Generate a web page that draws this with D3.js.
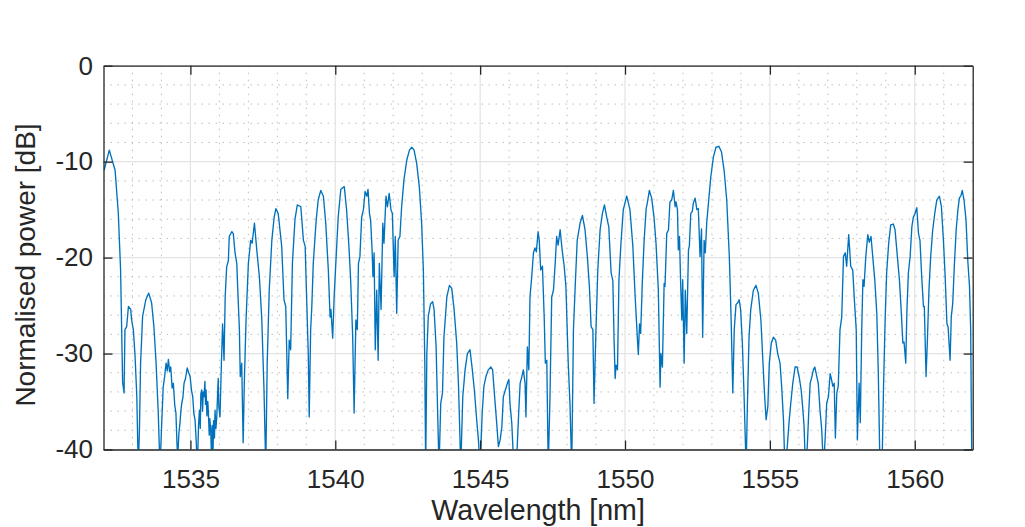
<!DOCTYPE html>
<html>
<head>
<meta charset="utf-8">
<script src="https://cdn.jsdelivr.net/npm/d3@7"></script>
<style>
  body { margin: 0; background: #fff; }
  svg { display: block; font-family: "Liberation Sans", Arial, Helvetica, sans-serif; }
</style>
</head>
<body>
<div id="chart"></div>
<script>
const kWidth = 1025;
const kHeight = 527;
const kLeft = 103.5;
const kRight = 972.7;
const kTop = 65.7;
const kBottom = 449.5;
const kTickLen = 9;

const xDomain = [1532, 1562];
const yDomain = [-40, 0];
const xTicks = [1535, 1540, 1545, 1550, 1555, 1560];
const yTicks = [0, -10, -20, -30, -40];
const xLabel = "Wavelength [nm]";
const yLabel = "Normalised power [dB]";

// [wavelength nm, power dB]
const seg1 = [
  [1532.02,-10.9],[1532.20,-8.8],[1532.40,-10.9],[1532.51,-15.3],[1532.59,-21.3],[1532.66,-33.0],
  [1532.71,-34.1],[1532.74,-27.5],[1532.80,-27.2],[1532.86,-25.1],[1532.94,-25.4],[1532.97,-26.5],
  [1533.03,-27.5],[1533.09,-30.3],[1533.15,-34.5],[1533.20,-42],[1533.24,-38],[1533.28,-31],
  [1533.35,-26.1],[1533.46,-24.4],[1533.56,-23.7],[1533.66,-24.7],[1533.74,-27.2],[1533.81,-30.7],
  [1533.89,-36.2],[1533.95,-42],[1534.01,-37.2],[1534.06,-33.5],[1534.11,-32.4],[1534.16,-31],
  [1534.20,-31.8],[1534.24,-30.6],[1534.28,-31.9],[1534.32,-31.4],[1534.37,-33.6],[1534.41,-33.1],
  [1534.46,-35.4],[1534.50,-36.2],[1534.53,-38.9],[1534.56,-41],[1534.60,-38.4],[1534.64,-37.2],
  [1534.67,-36.0],[1534.70,-35.2],[1534.74,-34.6],[1534.78,-33.1],[1534.83,-32.6],[1534.89,-31.5],
  [1534.94,-32.0],[1534.99,-32.4],[1535.04,-33.9],[1535.08,-34.5],[1535.12,-36.3],[1535.16,-36.9],
  [1535.20,-39.1],[1535.24,-42],[1535.28,-37.5],[1535.31,-35.9],[1535.34,-37.8],[1535.36,-34.2],
  [1535.39,-33.8],[1535.42,-36.0],[1535.44,-34.0],[1535.47,-34.5],[1535.50,-32.9],[1535.52,-35.3],
  [1535.54,-33.8],[1535.57,-36.5],[1535.60,-35.0],[1535.62,-36.2],[1535.65,-38.5],[1535.67,-36.8],
  [1535.70,-38],[1535.73,-41],[1535.75,-37.5],[1535.77,-42],[1535.80,-37],[1535.83,-38.8],
  [1535.85,-35.9],[1535.88,-37.8],[1535.91,-36.6],[1535.94,-34.0],[1535.96,-32.6],[1535.98,-35.5],
  [1536.02,-36.6],[1536.07,-31],[1536.11,-26.9],[1536.16,-30.7],[1536.20,-24.1],[1536.25,-21],
  [1536.31,-20.3],[1536.34,-17.8],[1536.43,-17.3],[1536.48,-17.5],[1536.54,-19.5],[1536.60,-20.6],
  [1536.63,-23],[1536.69,-27.5],[1536.72,-32.4],[1536.77,-31],[1536.82,-39.3],[1536.86,-33.1],
  [1536.92,-26.5],[1537.00,-20.6],[1537.08,-18.2],[1537.13,-18.5],[1537.21,-16.4],[1537.29,-19.2],
  [1537.38,-22],[1537.46,-26.2],[1537.54,-33.8],[1537.60,-42],[1537.65,-31],[1537.72,-23.4],
  [1537.81,-18.2],[1537.89,-15.8],[1537.95,-14.9],[1538.03,-15.4],[1538.15,-18.8],[1538.23,-24.4],
  [1538.29,-25.1],[1538.36,-34.7],[1538.41,-28.6],[1538.46,-29.6],[1538.52,-20.6],[1538.61,-16],
  [1538.69,-14.5],[1538.81,-14.7]
];

const seg2 = [
  [1538.90,-18.2],[1538.96,-18.8],[1539.01,-24.1],[1539.07,-30.3],[1539.10,-36.6],[1539.15,-27.5],
  [1539.19,-25.1],[1539.24,-20.6],[1539.34,-16.1],[1539.41,-14],[1539.50,-13],[1539.59,-13.6],
  [1539.67,-16.4],[1539.76,-21.3],[1539.82,-26.2],[1539.85,-25.4],[1539.91,-28.4],[1539.96,-24.1],
  [1540.03,-19.9],[1540.10,-15.8],[1540.19,-12.9],[1540.31,-12.6],[1540.39,-15],[1540.47,-18.8],
  [1540.53,-22.3],[1540.60,-28.2],[1540.65,-36.2],[1540.71,-26.5],[1540.76,-27.5],[1540.80,-20.6],
  [1540.85,-19.9],[1540.91,-15.8],[1540.97,-15],[1541.03,-13.1],[1541.09,-13.6],[1541.13,-12.9],
  [1541.18,-15.4],[1541.22,-16.1],[1541.27,-19.2],[1541.30,-22],[1541.34,-19.5],[1541.38,-29.6],
  [1541.43,-23.4],[1541.48,-30.7],[1541.52,-20.6],[1541.58,-25.4],[1541.64,-16.4],[1541.68,-18.5],
  [1541.75,-13.6],[1541.80,-14.7],[1541.86,-13.3],[1541.92,-15],[1541.97,-15.4],[1542.03,-22],
  [1542.07,-17.8],[1542.12,-25.8],[1542.17,-18.2],[1542.23,-17.8],[1542.29,-14.7],[1542.37,-11.9],
  [1542.47,-9.8],[1542.56,-8.8],[1542.64,-8.5],[1542.72,-8.8],[1542.81,-10.2],[1542.90,-12.6],
  [1542.98,-16.4],[1543.04,-21.3],[1543.09,-31],[1543.12,-42],[1543.16,-30],[1543.21,-26.1],
  [1543.29,-24.8],[1543.36,-24.6],[1543.41,-25.4],[1543.48,-29.3],[1543.52,-34.5],[1543.58,-42],
  [1543.64,-35.2],[1543.70,-34.1],[1543.75,-28.3],[1543.85,-24.1],[1543.94,-22.9],[1544.02,-23.2],
  [1544.10,-25.4],[1544.19,-28.9],[1544.25,-33.1],[1544.28,-36.2],[1544.33,-42],[1544.40,-34.5],
  [1544.48,-31.7],[1544.56,-30],[1544.65,-29.6],[1544.73,-31.7],[1544.80,-33.8],[1544.88,-36.9],
  [1544.94,-39],[1545.00,-42],[1545.07,-36.2],[1545.13,-33.4],[1545.20,-32.4],[1545.28,-31.7],
  [1545.37,-31.4],[1545.43,-31.7],[1545.50,-34.5],[1545.57,-37.2],[1545.63,-39.7],[1545.69,-39],
  [1545.75,-37.6],[1545.80,-34.5],[1545.87,-33.8],[1545.94,-33.1],[1545.99,-32.7],[1546.03,-35.2],
  [1546.09,-37.2],[1546.15,-41],[1546.26,-41],[1546.33,-36.2]
];

const seg3 = [
  [1546.38,-33.1],[1546.44,-32.4],[1546.49,-31.7],[1546.55,-33.1],[1546.58,-36.6],[1546.63,-29.3],
  [1546.68,-31.7],[1546.72,-24.1],[1546.78,-22],[1546.84,-19.5],[1546.89,-19],[1546.94,-19.4],
  [1547.00,-17.3],[1547.04,-18.2],[1547.09,-21.3],[1547.15,-20.9],[1547.21,-26.2],[1547.25,-31],
  [1547.30,-30.7],[1547.35,-42],[1547.41,-34.5],[1547.47,-24.1],[1547.53,-23.4],[1547.59,-20.6],
  [1547.64,-17.8],[1547.69,-18.7],[1547.76,-17.1],[1547.83,-19.2],[1547.90,-20.9],[1547.96,-23],
  [1548.04,-31],[1548.10,-35.2],[1548.16,-42],[1548.22,-27.5],[1548.29,-22.3],[1548.35,-18.2],
  [1548.45,-16.4],[1548.53,-15.6],[1548.62,-17.1],[1548.70,-19.9],[1548.77,-23],[1548.83,-27.2],
  [1548.89,-27.5],[1548.93,-35.2],[1548.99,-28.3],[1549.06,-21.3],[1549.14,-17.1],[1549.22,-15.4],
  [1549.29,-14.5],[1549.37,-15.8],[1549.44,-16.8],[1549.52,-21.6],[1549.58,-22.4],[1549.62,-28.3],
  [1549.66,-32.6],[1549.69,-31.2],[1549.74,-31.7],[1549.79,-22.3],[1549.86,-18.5],[1549.94,-15],
  [1550.06,-13.6],[1550.17,-15],[1550.27,-18.8],[1550.35,-24.1],[1550.43,-28.6],[1550.46,-30.1],
  [1550.50,-26.9],[1550.54,-27.9],[1550.60,-22.3],[1550.66,-18.2],[1550.73,-14.9],[1550.77,-14.3],
  [1550.84,-13],[1550.92,-13.8],[1551.00,-15.8],[1551.07,-18.5],[1551.15,-23.4],[1551.21,-33.5],
  [1551.24,-30],[1551.29,-31.4],[1551.35,-22.7],[1551.38,-23],[1551.44,-17.5],[1551.50,-17.1],
  [1551.55,-14.2],[1551.61,-14],[1551.67,-13],[1551.73,-14.7],[1551.76,-14.2],[1551.81,-15],
  [1551.84,-19.2],[1551.88,-17.8],[1551.92,-22.7],[1551.96,-26.5],[1551.99,-22.3],[1552.04,-31],
  [1552.08,-23.4],[1552.13,-27.9],[1552.19,-19.2],[1552.22,-18.8],[1552.27,-15.4],[1552.32,-15.2],
  [1552.36,-14.3],[1552.42,-13.8],[1552.48,-15],[1552.53,-14.9],[1552.59,-19.9],[1552.64,-17],
  [1552.68,-28.3],[1552.73,-18.2],[1552.77,-19.5],[1552.82,-16.4],[1552.88,-14.3],[1552.96,-11.6]
];

const seg4 = [
  [1553.05,-9.5],[1553.14,-8.5],[1553.24,-8.4],[1553.33,-9],[1553.42,-10.9],[1553.51,-14],
  [1553.60,-19.9],[1553.66,-26.2],[1553.72,-34.1],[1553.77,-27.5],[1553.83,-24.9],[1553.89,-24.7],
  [1553.94,-24.4],[1553.99,-25.4],[1554.05,-28.9],[1554.11,-34.5],[1554.18,-42],[1554.22,-35.9],
  [1554.28,-28.3],[1554.34,-25.4],[1554.43,-23.4],[1554.52,-22.9],[1554.60,-23.7],[1554.69,-26.5],
  [1554.75,-30.3],[1554.82,-34.5],[1554.87,-36.9],[1554.93,-35.5],[1554.98,-31],[1555.05,-28.9],
  [1555.12,-28.3],[1555.20,-28.6],[1555.27,-30],[1555.35,-31],[1555.41,-33.6],[1555.47,-37],
  [1555.52,-42],[1555.60,-39.7],[1555.66,-37.2],[1555.72,-35.2],[1555.79,-33.1],[1555.87,-31.4],
  [1555.94,-31.4],[1556.02,-32.6],[1556.08,-33.8],[1556.14,-35.9],[1556.18,-37.6],[1556.23,-42],
  [1556.29,-39.7],[1556.34,-36.2],[1556.39,-33.1],[1556.45,-32.4],[1556.50,-31.7],[1556.55,-31.4],
  [1556.62,-32.4],[1556.67,-33.1],[1556.73,-35.9],[1556.79,-38],[1556.85,-42],[1556.91,-38.7],
  [1556.96,-35.2],[1557.02,-34.5],[1557.08,-32.1],[1557.12,-32.6],[1557.17,-33.4],[1557.22,-33.1],
  [1557.26,-38.8],[1557.31,-34.1],[1557.36,-33.4],[1557.42,-27.5],[1557.48,-26.2],[1557.54,-19.9],
  [1557.60,-19.5],[1557.65,-20.9],[1557.72,-17.6],[1557.79,-20.9],[1557.86,-21.3],[1557.91,-24.1],
  [1557.98,-27.5],[1558.02,-39],[1558.08,-33.1],[1558.12,-37.2],[1558.17,-27.5],[1558.21,-22.3],
  [1558.25,-23],[1558.31,-19.9],[1558.38,-17.6],[1558.43,-18.4],[1558.49,-17.8],[1558.55,-19.9],
  [1558.62,-22.3],[1558.69,-25.8],[1558.74,-31.7],[1558.80,-42],[1558.87,-42],[1558.92,-33.8],
  [1558.98,-26.2],[1559.03,-21.6],[1559.10,-18.5],[1559.17,-16.6],[1559.26,-16.5],[1559.32,-17.1],
  [1559.40,-19.9],[1559.47,-22.3],[1559.53,-25.4],[1559.59,-28.9],[1559.63,-28.8],[1559.69,-31],
  [1559.73,-25.4],[1559.78,-21.6],[1559.84,-19.9],[1559.90,-16.8],[1559.95,-15.8],[1560.01,-15.4],
  [1560.07,-14.8],[1560.13,-17.5],[1560.18,-18.2],[1560.24,-22],[1560.30,-25.1],[1560.33,-25.1],
  [1560.39,-32.4],[1560.44,-28.3],[1560.49,-23.4],[1560.55,-19.9],[1560.62,-17.1],[1560.69,-15.4],
  [1560.76,-14],[1560.85,-13.6],[1560.92,-14.7],[1560.99,-18.2],[1561.05,-22],[1561.11,-26.9],
  [1561.15,-27.2],[1561.22,-30.7],[1561.26,-26.2],[1561.31,-24.8],[1561.37,-20.6],[1561.43,-17.1],
  [1561.49,-15],[1561.54,-13.8],[1561.60,-13.5],[1561.64,-13],[1561.70,-14],[1561.77,-16.1],
  [1561.83,-20.3],[1561.89,-23],[1561.93,-27.5],[1561.97,-42]
];

const spectrum = seg1.concat(seg2, seg3, seg4);

const svg = d3.select("#chart")
  .append("svg")
  .attr("width", kWidth)
  .attr("height", kHeight);

const x = d3.scaleLinear().domain(xDomain).range([kLeft, kRight]);
const y = d3.scaleLinear().domain(yDomain).range([kBottom, kTop]);

// minor grid (dotted)
const xMinor = d3.range(1533, 1562, 1).filter(v => !xTicks.includes(v));
const yMinor = d3.range(-38, 0, 2).filter(v => !yTicks.includes(v));

const grid = svg.append("g").attr("class", "grid");

grid.selectAll(".xminor")
  .data(xMinor)
  .enter()
  .append("line")
  .attr("x1", d => x(d)).attr("x2", d => x(d))
  .attr("y1", kTop).attr("y2", kBottom)
  .attr("stroke", "#bdbdbd")
  .attr("stroke-width", 1)
  .attr("stroke-dasharray", "1.5,5.5");

grid.selectAll(".yminor")
  .data(yMinor)
  .enter()
  .append("line")
  .attr("x1", kLeft).attr("x2", kRight)
  .attr("y1", d => y(d)).attr("y2", d => y(d))
  .attr("stroke", "#bdbdbd")
  .attr("stroke-width", 1)
  .attr("stroke-dasharray", "1.5,5.5");

// major grid
grid.selectAll(".xmajor")
  .data(xTicks)
  .enter()
  .append("line")
  .attr("x1", d => x(d)).attr("x2", d => x(d))
  .attr("y1", kTop).attr("y2", kBottom)
  .attr("stroke", "#e3e3e3")
  .attr("stroke-width", 1.2);

grid.selectAll(".ymajor")
  .data(yTicks)
  .enter()
  .append("line")
  .attr("x1", kLeft).attr("x2", kRight)
  .attr("y1", d => y(d)).attr("y2", d => y(d))
  .attr("stroke", "#e3e3e3")
  .attr("stroke-width", 1.2);

// data line, clipped to the axes box
svg.append("clipPath")
  .attr("id", "clip")
  .append("rect")
  .attr("x", kLeft).attr("y", kTop)
  .attr("width", kRight - kLeft)
  .attr("height", kBottom - kTop);

const line = d3.line()
  .x(d => x(d[0]))
  .y(d => y(d[1]));

svg.append("path")
  .datum(spectrum)
  .attr("clip-path", "url(#clip)")
  .attr("d", line)
  .attr("fill", "none")
  .attr("stroke", "#0072bd")
  .attr("stroke-width", 1.35)
  .attr("stroke-linejoin", "round");

// axes box with inward ticks
const axisColor = "#262626";

function styleAxis(g)
{
  g.attr("font-family", null).attr("font-size", null);
  g.select(".domain").attr("stroke", axisColor).attr("stroke-width", 1.3);
  g.selectAll(".tick line").attr("stroke", axisColor).attr("stroke-width", 1.3);
  g.selectAll(".tick text")
    .attr("fill", axisColor)
    .style("font-size", "26px");
}

svg.append("g")
  .attr("transform", `translate(0, ${kBottom})`)
  .call(d3.axisBottom(x).tickValues(xTicks).tickSizeInner(-kTickLen).tickSizeOuter(0).tickPadding(20.5).tickFormat(d3.format("d")))
  .call(styleAxis);

svg.append("g")
  .attr("transform", `translate(0, ${kTop})`)
  .call(d3.axisTop(x).tickValues(xTicks).tickSizeInner(-kTickLen).tickSizeOuter(0).tickFormat(""))
  .call(styleAxis);

svg.append("g")
  .attr("transform", `translate(${kLeft}, 0)`)
  .call(d3.axisLeft(y).tickValues(yTicks).tickSizeInner(-kTickLen).tickSizeOuter(0).tickPadding(10.5).tickFormat(d => String(d)))
  .call(styleAxis);

svg.append("g")
  .attr("transform", `translate(${kRight}, 0)`)
  .call(d3.axisRight(y).tickValues(yTicks).tickSizeInner(-kTickLen).tickSizeOuter(0).tickFormat(""))
  .call(styleAxis);

// axis labels
svg.append("text")
  .attr("x", (kLeft + kRight) / 2)
  .attr("y", 520)
  .attr("text-anchor", "middle")
  .attr("fill", axisColor)
  .style("font-size", "28.6px")
  .text(xLabel);

svg.append("text")
  .attr("transform", `translate(35, 265) rotate(-90)`)
  .attr("text-anchor", "middle")
  .attr("fill", axisColor)
  .style("font-size", "28px")
  .text(yLabel);
</script>
</body>
</html>
